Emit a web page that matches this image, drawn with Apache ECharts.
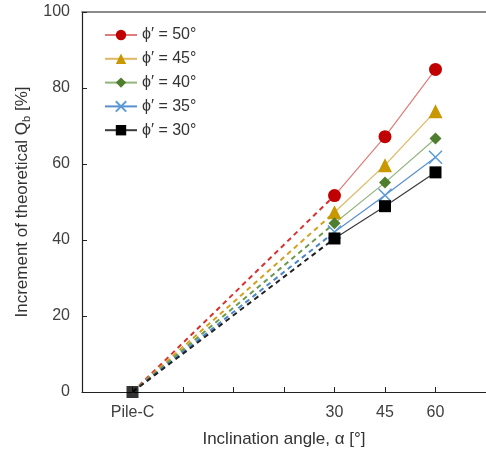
<!DOCTYPE html>
<html>
<head>
<meta charset="utf-8">
<script src="https://cdn.jsdelivr.net/npm/echarts@6/dist/echarts.min.js"></script>
<style>html,body{margin:0;padding:0;background:#fff}#c{width:486px;height:453px}</style>
</head>
<body>
<div id="c"></div>
<script>
// x-axis slots (category axis, blanks are unlabeled tick slots)
var xCategories = ['', 'Pile-C', ' ', '  ', '   ', '30', '45', '60', '    '];
var baseCategory = 'Pile-C';
var angleCategories = ['30', '45', '60'];
var baseValue = 0;
// Increment of theoretical Qb [%] at alpha = 30, 45, 60
var phi50 = [51.7, 67.2, 84.9];
var phi45 = [47.3, 59.7, 73.9];
var phi40 = [44.4, 55.1, 66.7];
var phi35 = [42.1, 51.8, 61.8];
var phi30 = [40.4, 48.9, 57.8];
var seriesNames = ['ϕ′ = 50°', 'ϕ′ = 45°', 'ϕ′ = 40°', 'ϕ′ = 35°', 'ϕ′ = 30°'];
var yTicks = [0, 20, 40, 60, 80, 100];

var allData = [phi50, phi45, phi40, phi35, phi30];
var markerColors = ['#C00000', '#C99700', '#4F7F2E', '#5B9BD5', '#000000'];
var lineColors = ['#E07B7B', '#DDB860', '#93B37D', '#5A90CF', '#3a3a3a'];
var dashColors = ['#D83030', '#D4A020', '#6E9A50', '#4A86C8', '#222222'];
var symbols = ['circle', 'triangle', 'diamond', 'path://M0,0L10,10M10,0L0,10', 'rect'];
var symbolSizes = [13, 14, 12, 13, 12];

var FONT = '"Liberation Sans", Arial, sans-serif';
var series = [];
allData.forEach(function (vals, i) {
  var baseIdx = xCategories.indexOf(baseCategory);
  var idx0 = xCategories.indexOf(angleCategories[0]);
  series.push({
    type: 'line', silent: true, symbol: 'none', z: 1,
    data: [[baseIdx, baseValue], [idx0, vals[0]]],
    lineStyle: { color: dashColors[i], width: 2, type: [5, 4] }
  });
});
allData.forEach(function (vals, i) {
  var isX = i === 3;
  series.push({
    name: seriesNames[i], type: 'line', z: 3,
    data: vals.map(function (v, k) { return [xCategories.indexOf(angleCategories[k]), v]; }),
    symbol: symbols[i], symbolSize: symbolSizes[i],
    itemStyle: isX ? { color: markerColors[i], borderColor: markerColors[i], borderWidth: 1.5 } : { color: markerColors[i] },
    lineStyle: { color: lineColors[i], width: 1.2 },
    showSymbol: true
  });
});
series.push({
  type: 'scatter', z: 5, symbol: 'rect', symbolSize: 12,
  data: [[xCategories.indexOf(baseCategory), baseValue]],
  itemStyle: { color: '#000' }
});

var chart = echarts.init(document.getElementById('c'), null, { renderer: 'canvas' });
chart.setOption({
  animation: false,
  backgroundColor: '#fff',
  grid: { left: 82, right: 0, top: 12, bottom: 61, containLabel: false, outerBoundsMode: 'none' },
  legend: {
    orient: 'vertical', left: 99, top: 22,
    itemWidth: 32, itemHeight: 13, itemGap: 7.8,
    data: seriesNames,
    textStyle: { fontFamily: FONT, fontSize: 16, color: '#333' }
  },
  xAxis: [{
    type: 'category', data: xCategories, boundaryGap: false,
    axisLine: { lineStyle: { color: '#222', width: 1.2 } },
    axisTick: { inside: true, length: 5, interval: 0, lineStyle: { color: '#222' } },
    axisLabel: { interval: 0, margin: 13, fontFamily: FONT, fontSize: 16, color: '#404040' },
    name: 'Inclination angle, α [°]', nameLocation: 'middle', nameGap: 39,
    nameTextStyle: { fontFamily: FONT, fontSize: 17, color: '#333' },
    splitLine: { show: false }
  }, {
    type: 'category', data: xCategories, boundaryGap: false, position: 'top',
    axisLine: { lineStyle: { color: '#666', width: 1.5 } },
    axisTick: { show: false }, axisLabel: { show: false }
  }],
  yAxis: {
    type: 'value', min: yTicks[0], max: yTicks[yTicks.length - 1], interval: yTicks[1] - yTicks[0],
    axisLine: { show: true, lineStyle: { color: '#222', width: 1.2 } },
    axisTick: { show: true, inside: true, length: 5, lineStyle: { color: '#222' } },
    axisLabel: { margin: 12, fontFamily: FONT, fontSize: 16, color: '#404040' },
    splitLine: { show: false },
    name: 'Increment of theoretical Q{sub|b} [%]', nameLocation: 'middle', nameGap: 47,
    nameTextStyle: {
      fontFamily: FONT, fontSize: 17, color: '#333',
      rich: { sub: { fontFamily: FONT, fontSize: 11, color: '#333', padding: [9, 0, 0, 0] } }
    }
  },
  series: series
});
</script>
</body>
</html>
